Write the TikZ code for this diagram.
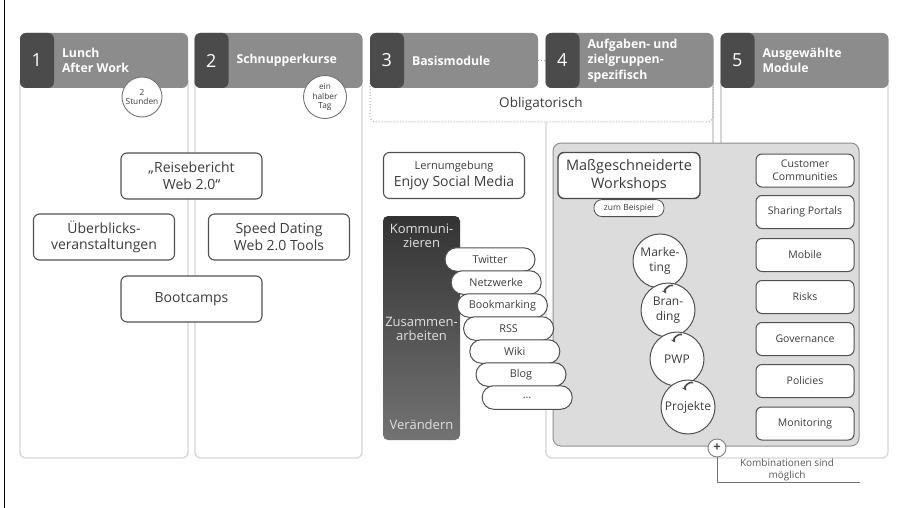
\documentclass[tikz,border=0pt]{standalone}
\usepackage{fontspec}
\setmainfont{Open Sans}
\usetikzlibrary{positioning}
\usetikzlibrary{arrows.meta}

\definecolor{hddark}{HTML}{4B4B4B}
\definecolor{hdlight}{HTML}{8C8C8C}
\definecolor{txtgray}{HTML}{3C3C3C}
\definecolor{cardline}{HTML}{D6D6D6}
\definecolor{panelfill}{HTML}{DCDCDC}
\definecolor{panelline}{HTML}{909090}
\definecolor{boxline}{HTML}{505050}

\tikzset{
  header/.style={draw=none, fill=hdlight, rounded corners=6pt, minimum width=168pt, minimum height=55pt,
    path picture={\fill[hddark] (path picture bounding box.north west) rectangle ([xshift=34pt]path picture bounding box.south west);}},
  hnum/.style={text=white, font=\fontsize{18}{18}\selectfont, inner sep=0pt},
  htitle/.style={text=white, font=\bfseries\fontsize{12.3}{15.5}\selectfont, align=left, anchor=west, inner sep=0pt},
  card/.style={draw=cardline, line width=1.3pt, rounded corners=6pt},
  oblig/.style={draw=black!35, dotted, line width=1pt, rounded corners=6pt},
  badge/.style={circle, draw=black!55, fill=white, line width=0.9pt, text=txtgray, font=\fontsize{8.3}{9.5}\selectfont, align=center, inner sep=0pt},
  topic/.style={draw=boxline, fill=white, line width=1.1pt, rounded corners=6pt, minimum width=141pt, minimum height=46pt, text=txtgray, font=\fontsize{14}{16.5}\selectfont, align=center, inner sep=2pt},
  tool/.style={draw=boxline, fill=white, line width=1pt, rounded corners=11.5pt, minimum width=90pt, minimum height=23.5pt, text=txtgray, font=\fontsize{10.8}{12}\selectfont},
  module/.style={draw=boxline, fill=white, line width=1pt, rounded corners=6pt, minimum width=98pt, minimum height=33pt, text=txtgray, font=\fontsize{10.5}{13}\selectfont, align=center, inner sep=1pt},
  field/.style={circle, draw=boxline, fill=white, line width=1pt, minimum size=54pt, inner sep=0pt, text=txtgray, font=\fontsize{12}{14.5}\selectfont, align=center},
  sbar/.style={rounded corners=5pt, minimum width=77pt, minimum height=224pt, top color=black!80, bottom color=black!55},
  barlabel/.style={text=black!12, font=\fontsize{13}{14.5}\selectfont, align=center},
  panel/.style={draw=panelline, fill=panelfill, line width=1pt, rounded corners=8pt, minimum width=306pt, minimum height=303pt},
  zbpill/.style={draw=boxline, fill=white, line width=0.8pt, rounded corners=8pt, minimum width=70pt, minimum height=17pt, inner sep=1pt, text=txtgray, font=\fontsize{8.5}{9}\selectfont},
  hookarrow/.style={-{Stealth[length=4.5pt,width=5pt]}, draw=hddark, line width=1.6pt},
  plusc/.style={circle, draw=black!50, fill=white, line width=0.9pt, minimum size=18pt, inner sep=0pt, font=\bfseries\fontsize{13}{13}\selectfont, text=hddark}
}

\begin{document}
\begin{tikzpicture}[x=1pt,y=-1pt]
    \useasboundingbox (0,0) rectangle (899,508);
    \fill[white] (0,0) rectangle (899,508);
    \draw[black, line width=1.5pt] (4.5,0) -- (4.5,508);

    % column frames
    \draw[card] (20,80) |- (188,458) -- (188,80);
    \draw[card] (195,80) |- (362,458) -- (362,80);
    \draw[card] (546,122) |- (888,458) -- (888,80);
    \draw[card] (713,80) -- (713,143);
    \draw[card] (721,80) -- (721,143);
    \draw[oblig] (370,80) -- (370,122) -- (713,122) -- (713,80);

    % headers
    \foreach \cx/\num/\txt in {104/1/{Lunch\\After Work}, 278.5/2/Schnupperkurse, 454/3/Basismodule, 629.5/4/{Aufgaben- und\\zielgruppen-\\spezifisch}, 804.5/5/{Ausgewählte\\Module}} {
        \node[header] (hd\num) at (\cx,60.5) {};
        \node[hnum] at ([xshift=17pt]hd\num.west) {\num};
        \node[htitle] at ([xshift=42pt]hd\num.west) {\txt};
    }
    \draw[oblig] (hd3.east) -- (hd4.west);
    \node[text=txtgray, font=\fontsize{13.5}{14}\selectfont] (obl) at (541,104) {Obligatorisch};

    \node[badge, minimum size=40pt] (dur1) at (142,97) {2\\Stunden};
    \node[badge, minimum size=43pt] (dur2) at (325,97) {ein\\halber\\Tag};

    % columns 1 and 2
    \node[topic] (reise) at (191.5,176) {„Reisebericht\\Web 2.0“};
    \node[topic] (ueber) at (104,237) {Überblicks-\\veranstaltungen};
    \node[topic] (speed) at (279,237) {Speed Dating\\Web 2.0 Tools};
    \node[topic] (boot) at (191.5,299) {Bootcamps};

    % column 3
    \node[topic] (lern) at (454,175.5) {{\fontsize{11}{13}\selectfont Lernumgebung}\\Enjoy Social Media};
    \node[sbar] (bar) at (421.5,328) {};
    \node[barlabel] (komm) at (421.5,236) {Kommuni-\\zieren};
    \node[barlabel] (zus) at (421.5,329) {Zusammen-\\arbeiten};
    \node[barlabel] (ver) at (421.5,425) {Verändern};

    % columns 4 and 5
    \node[panel] (panel) at (706,294.5) {};
    \foreach \t [count=\i from 0] in {Twitter, Netzwerke, Bookmarking, RSS, Wiki, Blog, \ldots}
        \node[tool] (t\i) at (490+6.2*\i, 259.5+23*\i) {\t};

    \node[topic, line width=1.4pt, draw=hddark, minimum width=142pt, font=\fontsize{14.5}{17.5}\selectfont] (ws) at (629,175.5) {Maßgeschneiderte\\Workshops};
    \node[zbpill, below=0pt of ws] (zb) {zum Beispiel};

    \node[field] (f1) at (660,261) {Marke-\\ting};
    \node[field] (f2) at (668,310) {Bran-\\ding};
    \node[field] (f3) at (677,359) {PWP};
    \node[field] (f4) at (688,407) {Projekte};
    \foreach \i in {2,3,4}
        \draw[hookarrow] ([shift={(5pt,-3pt)}]f\i.north) to[bend right=70] ([shift={(-2pt,-11pt)}]f\i.north);

    \foreach \y/\t [count=\i] in {170.5/{Customer\\Communities}, 212/Sharing Portals, 255/Mobile, 297/Risks, 339/Governance, 381/Policies, 423.5/Monitoring}
        \node[module] (m\i) at (805,\y) {\t};

    \node[plusc] (plus) at (717,448) {+};
    \coordinate (kend) at (860,482);
    \draw[black!55, line width=0.8pt] (plus.south) |- (kend);
    \node[text=black!65, font=\fontsize{10}{11.5}\selectfont, align=center] (kombi) at (787,470) {Kombinationen sind\\möglich};
\end{tikzpicture}
\end{document}
